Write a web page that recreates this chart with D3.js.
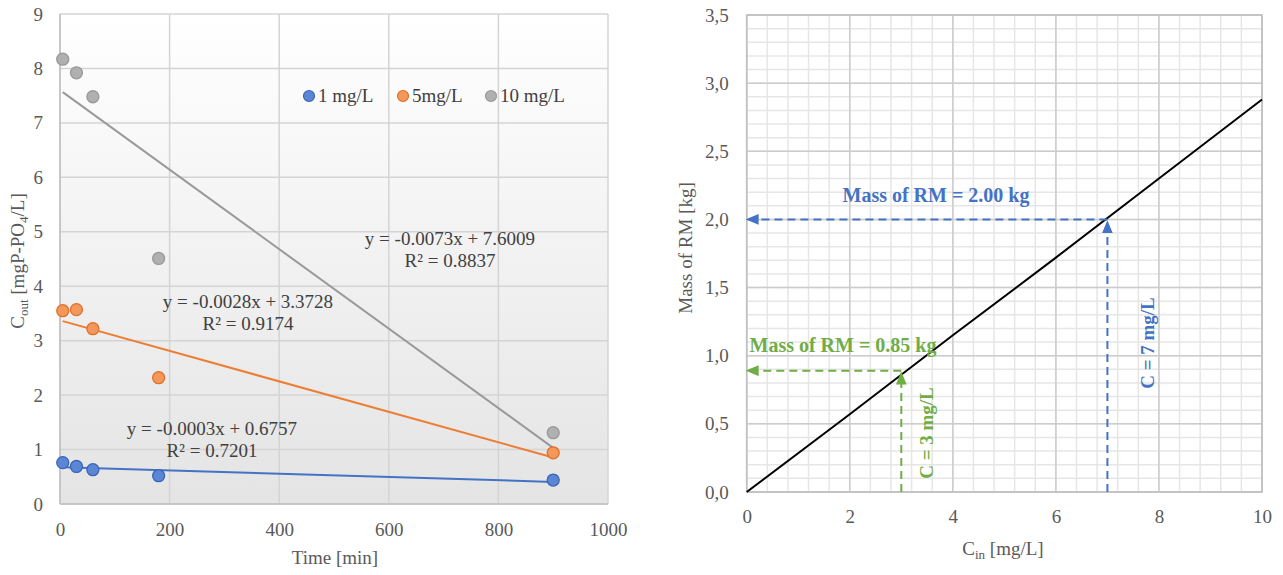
<!DOCTYPE html>
<html>
  <head>
    <title>Phosphate removal charts</title>
    <script src="https://d3js.org/d3.v7.min.js"></script>
    <style>
      body { margin: 0; background: #fff; }
      svg text { font-family: "Liberation Serif", "Times New Roman", serif; }
    </style>
  </head>
  <body>
    <div id="chart"></div>
    <script>
      // left chart data: time [min] vs C_out
      var times = [5, 30, 60, 180, 900];
      var series1 = [0.76, 0.69, 0.63, 0.52, 0.44];
      var series5 = [3.55, 3.57, 3.22, 2.32, 0.94];
      var series10 = [8.17, 7.92, 7.48, 4.51, 1.31];
      var seriesNames = ["1 mg/L", "5mg/L", "10 mg/L"];
      var slopes = [-0.0003, -0.0028, -0.0073];
      var intercepts = [0.6757, 3.3728, 7.6009];
      var r2 = [0.7201, 0.9174, 0.8837];
      var leftXTicks = [0, 200, 400, 600, 800, 1000];
      var leftYTicks = [0, 1, 2, 3, 4, 5, 6, 7, 8, 9];

      // right chart data: C_in vs mass of RM
      var cin = [0, 2, 4, 6, 8, 10];
      var massRM = [0, 0.57, 1.15, 1.72, 2.30, 2.88];
      var rightXTicks = [0, 2, 4, 6, 8, 10];
      var rightYTicks = [0, 0.5, 1, 1.5, 2, 2.5, 3, 3.5];
      var markCin = [3, 7];
      var markMass = [0.89, 2.0];
      var markLabels = ["Mass of RM = 0.85 kg", "Mass of RM = 2.00 kg"];
      var markCLabels = ["C = 3 mg/L", "C = 7 mg/L"];

      var serif = "'Liberation Serif', 'Times New Roman', serif";

      var svg = d3.select("#chart").append("svg")
        .attr("width", 1283)
        .attr("height", 575)
        .attr("font-family", serif);

      var defs = svg.append("defs");
      var grad = defs.append("linearGradient")
        .attr("id", "bg").attr("x1", 0).attr("y1", 0).attr("x2", 0).attr("y2", 1);
      grad.append("stop").attr("offset", "0%").attr("stop-color", "#ffffff");
      grad.append("stop").attr("offset", "100%").attr("stop-color", "#e4e4e4");

      var annColors = ["#70AD47", "#4472C4"];
      annColors.forEach(function(c, i) {
        defs.append("marker")
          .attr("id", "arr" + i)
          .attr("viewBox", "0 0 12 10")
          .attr("refX", 11).attr("refY", 5)
          .attr("markerWidth", 6.5).attr("markerHeight", 5.5)
          .attr("markerUnits", "strokeWidth")
          .attr("orient", "auto")
          .append("path")
          .attr("d", "M0,0 L12,5 L0,10 z")
          .attr("fill", c);
      });

      // ---------- left chart ----------
      var x1 = d3.scaleLinear().domain([0, 1000]).range([60, 608]);
      var y1 = d3.scaleLinear().domain([0, 9]).range([504, 14]);

      svg.append("rect")
        .attr("x", x1(0)).attr("y", y1(9))
        .attr("width", x1(1000) - x1(0)).attr("height", y1(0) - y1(9))
        .attr("fill", "url(#bg)");

      var gl = svg.append("g");
      gl.selectAll(".vg").data(leftXTicks).enter().append("line")
        .attr("x1", function(d) { return x1(d); })
        .attr("x2", function(d) { return x1(d); })
        .attr("y1", y1(0)).attr("y2", y1(9))
        .attr("stroke", "#d4d4d4").attr("stroke-width", 1.5);
      gl.selectAll(".hg").data(leftYTicks).enter().append("line")
        .attr("x1", x1(0)).attr("x2", x1(1000))
        .attr("y1", function(d) { return y1(d); })
        .attr("y2", function(d) { return y1(d); })
        .attr("stroke", "#d4d4d4").attr("stroke-width", 1.5);

      // axis lines
      svg.append("line").attr("x1", x1(0)).attr("x2", x1(0))
        .attr("y1", y1(0)).attr("y2", y1(9)).attr("stroke", "#bfbfbf").attr("stroke-width", 1.5);
      svg.append("line").attr("x1", x1(0)).attr("x2", x1(1000))
        .attr("y1", y1(0)).attr("y2", y1(0)).attr("stroke", "#bfbfbf").attr("stroke-width", 1.5);

      var lx = svg.append("g")
        .attr("transform", "translate(0," + y1(0) + ")")
        .call(d3.axisBottom(x1).tickValues(leftXTicks).tickSize(0).tickPadding(19).tickFormat(d3.format("d")));
      var ly = svg.append("g")
        .attr("transform", "translate(" + x1(0) + ",0)")
        .call(d3.axisLeft(y1).tickValues(leftYTicks).tickSize(0).tickPadding(17));
      [lx, ly].forEach(function(a) {
        a.attr("font-family", serif).attr("font-size", 19);
        a.select(".domain").remove();
        a.selectAll("text").attr("fill", "#595959");
      });

      var allSeries = [series1, series5, series10];
      var lineColors = ["#4472C4", "#ED7D31", "#999999"];
      var fillColors = ["#5B86D6", "#F4975A", "#B0B0B0"];
      var strokeColors = ["#3A64B4", "#E07028", "#999999"];

      // trend lines
      allSeries.forEach(function(s, i) {
        var t0 = d3.min(times), t1 = d3.max(times);
        svg.append("line")
          .attr("x1", x1(t0)).attr("y1", y1(intercepts[i] + slopes[i] * t0))
          .attr("x2", x1(t1)).attr("y2", y1(intercepts[i] + slopes[i] * t1))
          .attr("stroke", lineColors[i]).attr("stroke-width", 2);
      });

      // points
      allSeries.forEach(function(s, i) {
        svg.append("g").selectAll("circle")
          .data(s).enter().append("circle")
          .attr("cx", function(d, j) { return x1(times[j]); })
          .attr("cy", function(d) { return y1(d); })
          .attr("r", 6)
          .attr("fill", fillColors[i])
          .attr("stroke", strokeColors[i])
          .attr("stroke-width", 1.3);
      });

      // equations
      var eqPos = [[212, 435], [248, 308], [450, 245]];
      eqPos.forEach(function(p, i) {
        var t = svg.append("text").attr("text-anchor", "middle")
          .attr("font-size", 19).attr("fill", "#404040");
        t.append("tspan").attr("x", p[0]).attr("y", p[1])
          .text("y = " + slopes[i].toFixed(4) + "x + " + intercepts[i].toFixed(4));
        t.append("tspan").attr("x", p[0]).attr("y", p[1] + 22)
          .text("R\u00b2 = " + r2[i].toFixed(4));
      });

      // legend
      var legX = [309, 403, 491];
      seriesNames.forEach(function(n, i) {
        svg.append("circle").attr("cx", legX[i]).attr("cy", 96).attr("r", 5.5)
          .attr("fill", fillColors[i]).attr("stroke", strokeColors[i]).attr("stroke-width", 1.2);
        svg.append("text").attr("x", legX[i] + 9).attr("y", 102)
          .attr("font-size", 19).attr("fill", "#404040").text(n);
      });

      // axis titles
      svg.append("text").attr("x", 335).attr("y", 564).attr("text-anchor", "middle")
        .attr("font-size", 19).attr("fill", "#595959").text("Time [min]");
      var yt = svg.append("text").attr("transform", "translate(24,261) rotate(-90)")
        .attr("text-anchor", "middle").attr("font-size", 19).attr("fill", "#595959");
      yt.append("tspan").text("C");
      yt.append("tspan").attr("font-size", 13).attr("dy", 4).text("out");
      yt.append("tspan").attr("dy", -4).text(" [mgP-PO");
      yt.append("tspan").attr("font-size", 13).attr("dy", 4).text("4");
      yt.append("tspan").attr("dy", -4).text("/L]");

      // ---------- right chart ----------
      var x2 = d3.scaleLinear().domain([0, 10]).range([746.7, 1262]);
      var y2 = d3.scaleLinear().domain([0, 3.5]).range([492, 15]);

      var gr = svg.append("g");
      gr.selectAll(".mv").data(d3.range(0, 10.001, 0.4)).enter().append("line")
        .attr("x1", function(d) { return x2(d); }).attr("x2", function(d) { return x2(d); })
        .attr("y1", y2(0)).attr("y2", y2(3.5))
        .attr("stroke", "#e6e6e6").attr("stroke-width", 1.5);
      gr.selectAll(".mh").data(d3.range(0, 3.501, 0.1)).enter().append("line")
        .attr("x1", x2(0)).attr("x2", x2(10))
        .attr("y1", function(d) { return y2(d); }).attr("y2", function(d) { return y2(d); })
        .attr("stroke", "#e6e6e6").attr("stroke-width", 1.5);
      gr.selectAll(".Mv").data(rightXTicks).enter().append("line")
        .attr("x1", function(d) { return x2(d); }).attr("x2", function(d) { return x2(d); })
        .attr("y1", y2(0)).attr("y2", y2(3.5))
        .attr("stroke", "#cccccc").attr("stroke-width", 1.5);
      gr.selectAll(".Mh").data(rightYTicks).enter().append("line")
        .attr("x1", x2(0)).attr("x2", x2(10))
        .attr("y1", function(d) { return y2(d); }).attr("y2", function(d) { return y2(d); })
        .attr("stroke", "#cccccc").attr("stroke-width", 1.5);
      svg.append("rect").attr("x", x2(0)).attr("y", y2(3.5))
        .attr("width", x2(10) - x2(0)).attr("height", y2(0) - y2(3.5))
        .attr("fill", "none").attr("stroke", "#bfbfbf").attr("stroke-width", 1.5);

      var commaFmt = d3.formatLocale({ decimal: ",", thousands: ".", grouping: [3], currency: ["", ""] }).format(".1f");
      var rx = svg.append("g")
        .attr("transform", "translate(0," + y2(0) + ")")
        .call(d3.axisBottom(x2).tickValues(rightXTicks).tickSize(0).tickPadding(18));
      var ry = svg.append("g")
        .attr("transform", "translate(" + x2(0) + ",0)")
        .call(d3.axisLeft(y2).tickValues(rightYTicks).tickSize(0).tickPadding(18).tickFormat(commaFmt));
      [rx, ry].forEach(function(a) {
        a.attr("font-family", serif).attr("font-size", 19);
        a.select(".domain").remove();
        a.selectAll("text").attr("fill", "#595959");
      });

      var line2 = d3.line()
        .x(function(d, i) { return x2(cin[i]); })
        .y(function(d) { return y2(d); });
      svg.append("path").datum(massRM).attr("d", line2)
        .attr("fill", "none").attr("stroke", "#000").attr("stroke-width", 2);

      // annotations
      var labelPos = [[843, 352], [936, 202]];
      var cLabelPos = [[933, 433], [1154, 343]];
      markCin.forEach(function(c, i) {
        var col = annColors[i];
        svg.append("line")
          .attr("x1", x2(c)).attr("y1", y2(markMass[i]))
          .attr("x2", x2(0)).attr("y2", y2(markMass[i]))
          .attr("stroke", col).attr("stroke-width", 2).attr("stroke-dasharray", "8,5")
          .attr("marker-end", "url(#arr" + i + ")");
        svg.append("line")
          .attr("x1", x2(c)).attr("y1", y2(0))
          .attr("x2", x2(c)).attr("y2", y2(markMass[i]) + 2)
          .attr("stroke", col).attr("stroke-width", 2).attr("stroke-dasharray", "8,5")
          .attr("marker-end", "url(#arr" + i + ")");
        svg.append("text").attr("x", labelPos[i][0]).attr("y", labelPos[i][1])
          .attr("text-anchor", "middle").attr("font-size", 20).attr("font-weight", "bold")
          .attr("fill", col).text(markLabels[i]);
        svg.append("text")
          .attr("transform", "translate(" + cLabelPos[i][0] + "," + cLabelPos[i][1] + ") rotate(-90)")
          .attr("text-anchor", "middle").attr("font-size", 19).attr("font-weight", "bold")
          .attr("fill", col).text(markCLabels[i]);
      });

      svg.append("text").attr("transform", "translate(692,248) rotate(-90)")
        .attr("text-anchor", "middle").attr("font-size", 19).attr("fill", "#595959")
        .text("Mass of RM [kg]");
      var xt = svg.append("text").attr("x", 1003).attr("y", 555)
        .attr("text-anchor", "middle").attr("font-size", 19).attr("fill", "#595959");
      xt.append("tspan").text("C");
      xt.append("tspan").attr("font-size", 13).attr("dy", 4).text("in");
      xt.append("tspan").attr("dy", -4).text(" [mg/L]");
    </script>
  </body>
</html>
